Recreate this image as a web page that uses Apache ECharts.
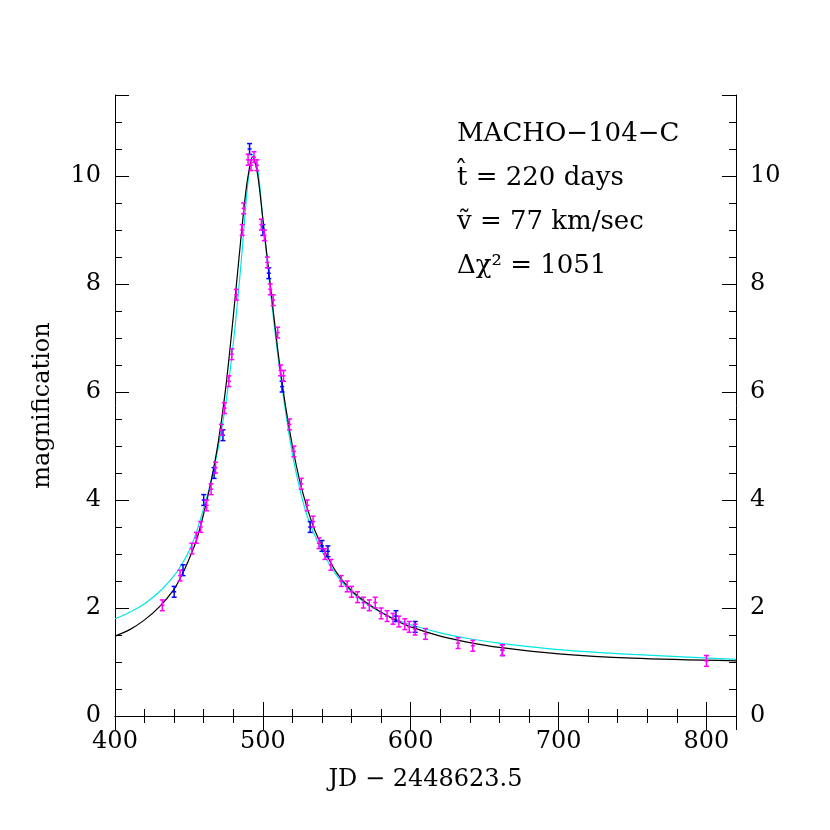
<!DOCTYPE html>
<html><head><meta charset="utf-8">
<script src="https://cdn.jsdelivr.net/npm/echarts@6/dist/echarts.min.js"></script>
<style>html,body{margin:0;padding:0;background:#fff}#c{width:830px;height:830px}</style>
</head><body><div id="c"></div>
<script>
const blackCurve=[[400,1.48],[410,1.6],[420,1.78],[430,2.02],[440,2.35],[445,2.6],[450,2.9],[455,3.25],[460,3.75],[465,4.35],[470,5.1],[475,6.1],[480,7.4],[485,8.8],[488,9.6],[490,10.0],[493,10.35],[496,10.1],[498,9.7],[500,9.2],[505,8.0],[510,6.8],[515,5.8],[520,5.0],[525,4.35],[530,3.85],[535,3.45],[540,3.15],[550,2.65],[560,2.32],[570,2.1],[580,1.92],[590,1.77],[600,1.65],[620,1.48],[640,1.36],[660,1.27],[700,1.15],[750,1.07],[820,1.02]];
const cyanCurve=[[400,1.8],[410,1.92],[420,2.08],[430,2.3],[440,2.6],[445,2.8],[450,3.05],[455,3.4],[460,3.85],[465,4.35],[470,5.0],[475,5.8],[480,6.9],[485,8.3],[488,9.3],[490,9.9],[493,10.4],[496,10.2],[498,9.8],[500,9.2],[505,7.9],[510,6.7],[515,5.7],[520,4.85],[525,4.2],[530,3.7],[535,3.35],[540,3.05],[550,2.6],[560,2.3],[570,2.08],[580,1.92],[590,1.79],[600,1.69],[620,1.54],[640,1.43],[660,1.35],[700,1.23],[750,1.14],[820,1.05]];
const magentaPts=[[432,2.05],[444,2.6],[452,3.1],[455,3.3],[458,3.5],[462,3.9],[465,4.2],[468,4.6],[472,5.3],[474,5.7],[477,6.2],[479,6.7],[482,7.8],[486,9.0],[487,9.4],[490,10.3],[492,10.2],[494,10.35],[496,10.2],[499,9.1],[501,8.9],[503,8.4],[505,7.9],[507,7.7],[510,7.1],[512,6.4],[514,6.3],[518,5.4],[521,4.9],[526,4.3],[530,3.9],[534,3.6],[538,3.2],[542,3.0],[546,2.8],[553,2.5],[557,2.4],[560,2.3],[564,2.2],[568,2.1],[572,2.05],[576,2.1],[580,1.9],[584,1.85],[588,1.8],[592,1.75],[596,1.7],[599,1.65],[603,1.6],[610,1.52],[632,1.35],[642,1.3],[662,1.22],[800,1.02]];
const bluePts=[[440,2.3],[446,2.7],[460,4.0],[467,4.5],[473,5.2],[491,10.5],[500,9.0],[504,8.2],[513,6.1],[532,3.5],[540,3.15],[544,3.05],[590,1.85],[603,1.65],[662,1.22]];
const errHalf=0.1;
const labels=["MACHO\u2212104\u2212C","t\u0302 = 220 days","v\u0303 = 77 km/sec","\u0394\u03c7\u00b2 = 1051"];

const font='"DejaVu Serif", "Liberation Serif", serif';
function errSeries(pts,color){
  return {type:'custom',xAxisIndex:0,yAxisIndex:0,data:pts.map(p=>[p[0],p[1]]),z:5,
    renderItem:(params,api)=>{
      const x=api.value(0),y=api.value(1);
      const a=api.coord([x,y+errHalf]),b=api.coord([x,y-errHalf]),c=api.coord([x,y]);
      const s={stroke:color,lineWidth:1.5};
      return {type:'group',children:[
        {type:'line',shape:{x1:a[0],y1:a[1],x2:b[0],y2:b[1]},style:s},
        {type:'line',shape:{x1:a[0]-2.5,y1:a[1],x2:a[0]+2.5,y2:a[1]},style:s},
        {type:'line',shape:{x1:b[0]-2.5,y1:b[1],x2:b[0]+2.5,y2:b[1]},style:s},
        {type:'line',shape:{x1:c[0]-2,y1:c[1],x2:c[0]+2,y2:c[1]},style:s}]};
    }};
}
function axisOpts(minorSplit,minorLen){
  return {axisLine:{show:true,lineStyle:{color:'#000',width:1}},splitLine:{show:false},
  axisTick:{show:true,inside:true,length:14,lineStyle:{color:'#000'}},
  minorTick:{show:true,splitNumber:minorSplit,length:minorLen,lineStyle:{color:'#000'}},
  axisLabel:{color:'#000',fontFamily:font,fontSize:24,margin:14,showMaxLabel:false}};
}
const nameStyle={color:'#000',fontFamily:font,fontSize:24};
const chart=echarts.init(document.getElementById('c'));
chart.setOption({
  animation:false,
  grid:{left:115,right:94,top:95,bottom:114},
  xAxis:[
    Object.assign(axisOpts(5,-7),{type:'value',min:400,max:820,interval:100,position:'bottom',
      name:'JD \u2212 2448623.5',nameLocation:'middle',nameGap:52,nameTextStyle:nameStyle}),
    Object.assign(axisOpts(5,-7),{type:'value',min:400,max:820,interval:100,position:'top',axisLabel:{show:false}})
  ],
  yAxis:[
    Object.assign(axisOpts(4,7),{type:'value',min:0,max:11.5,interval:2,position:'left',
      name:'magnification',nameLocation:'middle',nameGap:60,nameTextStyle:nameStyle}),
    Object.assign(axisOpts(4,7),{type:'value',min:0,max:11.5,interval:2,position:'right'})
  ],
  graphic:labels.map((t,i)=>({type:'text',left:457,top:121+i*44,style:{text:t,font:'26px '+font,fill:'#000'}})),
  series:[
    {type:'line',data:cyanCurve,smooth:0.3,showSymbol:false,lineStyle:{color:'#00e5e5',width:1.2},z:3},
    {type:'line',data:blackCurve,smooth:0.3,showSymbol:false,lineStyle:{color:'#000',width:1.2},z:4},
    errSeries(bluePts,'#0000ff'),
    errSeries(magentaPts,'#ff00ff')
  ]
});
</script></body></html>
